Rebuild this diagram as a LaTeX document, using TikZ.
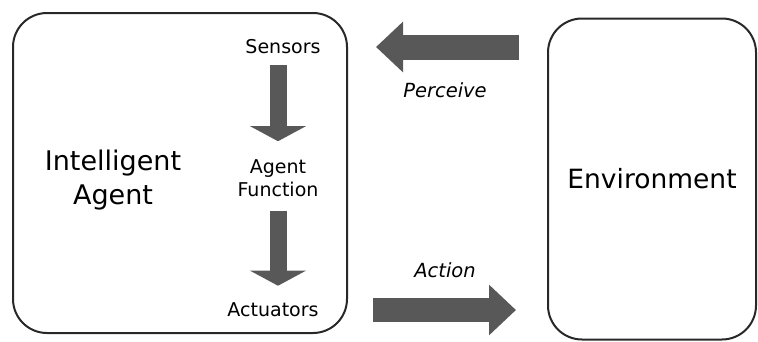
\documentclass[tikz,border=0pt]{standalone}
\usepackage{fontspec}
\setmainfont{DejaVu Sans}
\usetikzlibrary{arrows.meta, positioning}
\definecolor{arrgray}{RGB}{88,88,88}
\definecolor{boxline}{RGB}{40,40,40}

\begin{document}
\begin{tikzpicture}[
    x=1pt, y=-1pt,
    frame/.style={draw=boxline, line width=2pt, rounded corners=34pt,
                  inner sep=0pt},
    big/.style={font=\fontsize{27}{34}\selectfont, align=center, inner sep=0pt},
    small/.style={font=\fontsize{19}{23}\selectfont, align=center, inner sep=0pt},
    lbl/.style={font=\fontsize{19.5}{23}\selectfont\itshape, inner sep=0pt},
    downarr/.style={-{Triangle[length=15pt, width=55pt]}, line width=17pt,
                    draw=arrgray},
    sidearr/.style={-{Triangle[length=27pt, width=49pt]}, line width=25pt,
                    draw=arrgray},
  ]
    \useasboundingbox (0,0) rectangle (758,341);

    % === Agent box (left) ===
    \node[frame, minimum width=334pt, minimum height=320pt] (agent) at (180,173) {};
    \node[big] (intag) at (113,180) {Intelligent\\Agent};

    % Pipeline inside the agent
    \node[small] (sensors) at (283,47) {Sensors};
    \node[small] (agentfn) at (278,178) {Agent\\Function};
    \node[small] (actuators) at (273,310) {Actuators};

    % === Environment box (right) ===
    \node[frame, big, font=\fontsize{26.5}{32}\selectfont,
          minimum width=208pt, minimum height=321pt] (env) at (652,179) {Environment};

    % === Arrows inside the agent ===
    \draw[downarr, shorten <=11pt, shorten >=18pt] (sensors.south -| agentfn.north) -- (agentfn.north);
    \draw[downarr, shorten <=14pt, shorten >=17pt] (agentfn.south) -- (agentfn.south |- actuators.north);

    % === Arrows between agent and environment ===
    \draw[sidearr, shorten <=28pt, shorten >=28pt] (env.west |- sensors) -- (agent.east |- sensors);
    \draw[sidearr, line width=24pt, shorten <=25pt, shorten >=31pt] (agent.east |- actuators) -- (env.west |- actuators);

    % Labels
    \node[lbl] (perceive) at (445,90) {Perceive};
    \node[lbl] (action) at (445,270) {Action};
  \end{tikzpicture}
\end{document}
